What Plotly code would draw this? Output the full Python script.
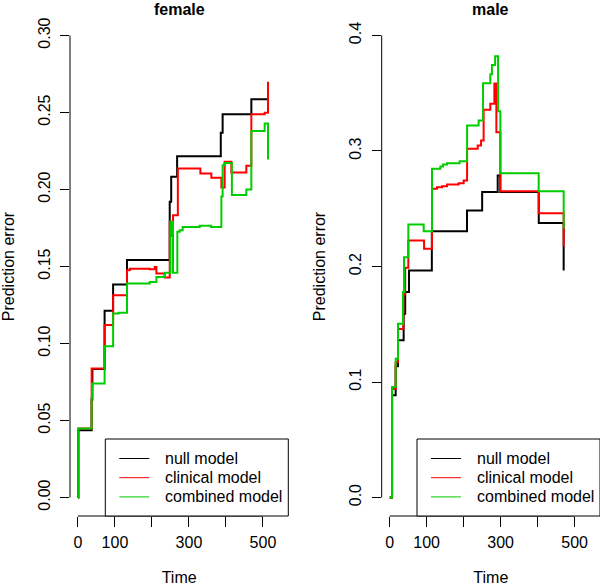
import plotly.graph_objects as go

# ---------------- data ----------------
panel_titles = ["female", "male"]
series_names = ["null model", "clinical model", "combined model"]
series_colors = ["#000000", "#FF0000", "#00CD00"]

# female panel
female_null_t = [0, 1, 37, 39, 72, 95, 132.5, 248, 252, 268, 386, 391, 468.6, 513.7]
female_null_v = [0, 0.0437, 0.0635, 0.0835, 0.1212, 0.1383, 0.1543, 0.192, 0.2082, 0.2216,
                 0.2368, 0.2489, 0.2586, 0.2586]

female_clin_t = [0, 1, 37, 72, 95, 132.5, 140, 194, 207.5, 212, 234.4, 248, 251, 257, 270,
                 330.8, 360.5, 387.6, 396.5, 414.6, 455, 468.6, 504.6, 513.7]
female_clin_v = [0, 0.0448, 0.0838, 0.112, 0.1314, 0.1476, 0.1485, 0.1482, 0.1496, 0.1455,
                 0.1429, 0.179, 0.170, 0.1833, 0.2136, 0.2104, 0.2076, 0.2013, 0.218, 0.211,
                 0.2154, 0.2489, 0.2499, 0.2699]

female_comb_t = [0, 1, 37, 38, 72, 95, 110, 132.5, 194, 212, 234.4, 250, 256.9, 268.6, 275,
                 283, 329, 360, 387.6, 391, 396, 416, 455, 468.6, 504.6, 513.7]
female_comb_v = [0, 0.0448, 0.065, 0.074, 0.0982, 0.1195, 0.120, 0.139, 0.140, 0.1432, 0.1459,
                 0.179, 0.146, 0.1725, 0.1736, 0.1757, 0.1764, 0.1757, 0.1955, 0.2158, 0.2172,
                 0.1965, 0.200, 0.238, 0.2428, 0.2195]

# male panel
male_null_t = [0, 6.5, 16.3, 22.5, 37.8, 42, 52.3, 114, 209, 250, 292, 299, 403, 470.3]
male_null_v = [0, 0.0885, 0.1136, 0.1361, 0.159, 0.1779, 0.1966, 0.2306, 0.2485, 0.2644,
               0.2788, 0.2644, 0.2376, 0.1966]

male_clin_t = [0, 6.5, 16.3, 22.5, 37, 42, 50.5, 93, 114.5, 128, 141.5, 155, 186.4, 200,
               209.3, 238, 247, 254, 272, 283, 288.4, 299.2, 402.8, 470.3]
male_clin_v = [0, 0.094, 0.117, 0.146, 0.176, 0.199, 0.2226, 0.2154, 0.2673, 0.2687, 0.2695,
               0.271, 0.2721, 0.2745, 0.3019, 0.3048, 0.3091, 0.3356, 0.3408, 0.3585, 0.3163,
               0.2652, 0.2462, 0.2174]

male_comb_t = [0, 6.5, 16.3, 22.5, 36.1, 38.8, 50.5, 92, 114.5, 137, 144.3, 155, 189.2, 209.3,
               240.5, 252.4, 272, 276.5, 285, 293, 299.2, 402.8, 470.3]
male_comb_v = [0, 0.0957, 0.1202, 0.1505, 0.1779, 0.2081, 0.2364, 0.2306, 0.2846, 0.2866,
               0.2883, 0.2894, 0.2912, 0.322, 0.3264, 0.3587, 0.3665, 0.3745, 0.382, 0.3345,
               0.2808, 0.2652, 0.233]

x_tickvals = [0, 100, 200, 300, 400, 500]
x_ticktext = ["0", "100", "", "300", "", "500"]
female_ytickvals = [0, 0.05, 0.10, 0.15, 0.20, 0.25, 0.30]
female_yticktext = ["0.00", "0.05", "0.10", "0.15", "0.20", "0.25", "0.30"]
male_ytickvals = [0, 0.1, 0.2, 0.3, 0.4]
male_yticktext = ["0.0", "0.1", "0.2", "0.3", "0.4"]

# ---------------- figure ----------------
FONT = "Liberation Sans, Arial, Helvetica, sans-serif"
FS = 16

panels = [
    dict(xa="x", ya="y",
         series=[(female_null_t, female_null_v), (female_clin_t, female_clin_v),
                 (female_comb_t, female_comb_v)],
         yvals=female_ytickvals, ytext=female_yticktext, ymax=0.30),
    dict(xa="x2", ya="y2",
         series=[(male_null_t, male_null_v), (male_clin_t, male_clin_v),
                 (male_comb_t, male_comb_v)],
         yvals=male_ytickvals, ytext=male_yticktext, ymax=0.40),
]

fig = go.Figure()
shapes = []
annotations = []

for p_i, p in enumerate(panels):
    for (t, v), name, col in zip(p["series"], series_names, series_colors):
        fig.add_trace(go.Scatter(x=t, y=v, mode="lines", name=name,
                                 line=dict(color=col, width=2, shape="hv"),
                                 xaxis=p["xa"], yaxis=p["ya"], showlegend=False,
                                 hoverinfo="skip"))
    xd = p["xa"] + " domain"
    yd = p["ya"] + " domain"
    # R-style partial axis lines
    shapes.append(dict(type="line", xref=xd, yref=p["ya"], x0=0, x1=0, y0=0, y1=p["ymax"],
                       line=dict(color="black", width=1)))
    shapes.append(dict(type="line", xref=p["xa"], yref=yd, x0=min(x_tickvals),
                       x1=max(x_tickvals), y0=0, y1=0, line=dict(color="black", width=1)))
    # legend box
    shapes.append(dict(type="rect", xref=xd, yref=yd, xsizemode="pixel", xanchor=1,
                       x0=-183, x1=0, ysizemode="pixel", yanchor=0, y0=0, y1=77,
                       line=dict(color="black", width=1), fillcolor="white", layer="above"))
    for k, (name, col) in enumerate(zip(series_names, series_colors)):
        yy = 57.5 - 19.2 * k
        shapes.append(dict(type="line", xref=xd, yref=yd, xsizemode="pixel", xanchor=1,
                           x0=-169, x1=-139, ysizemode="pixel", yanchor=0, y0=yy, y1=yy,
                           line=dict(color=col, width=1), layer="above"))
        annotations.append(dict(text=name, xref=xd, yref=yd, x=1, y=0, xshift=-125,
                                yshift=yy, xanchor="left", yanchor="middle", showarrow=False,
                                font=dict(family=FONT, size=FS, color="black")))
    # panel title
    annotations.append(dict(text=panel_titles[p_i], xref=xd, yref=yd, x=0.5, y=1,
                            yshift=8, xanchor="center", yanchor="middle", showarrow=False,
                            font=dict(family=FONT, size=FS, color="black", weight="bold")))

axis_common = dict(showgrid=False, zeroline=False, showline=False, ticks="outside",
                   tickcolor="black", tickwidth=1, automargin=False,
                   tickfont=dict(family=FONT, size=FS, color="black"))

fig.update_layout(
    width=600, height=586,
    margin=dict(l=70, r=0, t=17, b=70),
    paper_bgcolor="white", plot_bgcolor="white",
    showlegend=False,
    font=dict(family=FONT, size=FS, color="black"),
    shapes=shapes, annotations=annotations,
    xaxis=dict(domain=[0, 0.4119], range=[-21.5, 568.5], tickvals=x_tickvals,
               ticktext=x_ticktext, ticklen=10, anchor="y", ticklabelstandoff=2,
               title=dict(text="Time", standoff=21, font=dict(family=FONT, size=FS)),
               **axis_common),
    yaxis=dict(domain=[0, 1], range=[-0.012, 0.312], tickvals=female_ytickvals,
               ticktext=female_yticktext, ticklen=9, tickangle=-90, anchor="x",
               ticklabelstandoff=4,
               title=dict(text="Prediction error", standoff=17, font=dict(family=FONT, size=FS)),
               **axis_common),
    xaxis2=dict(domain=[0.5881, 1], range=[-21.5, 568.5], tickvals=x_tickvals,
                ticktext=x_ticktext, ticklen=10, anchor="y2", ticklabelstandoff=2,
                title=dict(text="Time", standoff=21, font=dict(family=FONT, size=FS)),
                **axis_common),
    yaxis2=dict(domain=[0, 1], range=[-0.016, 0.416], tickvals=male_ytickvals,
                ticktext=male_yticktext, ticklen=9, tickangle=-90, anchor="x2",
                ticklabelstandoff=4,
                title=dict(text="Prediction error", standoff=17, font=dict(family=FONT, size=FS)),
                **axis_common),
)

fig.write_html("out.html", config={"displayModeBar": False},
               post_script="document.body.style.margin='0px';")
